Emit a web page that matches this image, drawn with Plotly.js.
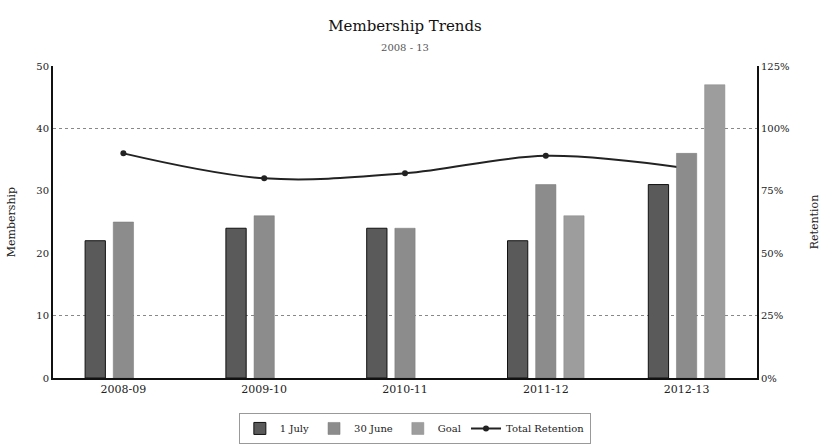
<!DOCTYPE html>
<html>
<head>
<meta charset="utf-8">
<script src="https://cdn.plot.ly/plotly-3.0.1.min.js"></script>
<style>html,body{margin:0;padding:0;background:#fff;}</style>
</head>
<body>
<div id="chart" style="width:833px;height:445px;"></div>
<script>
const categories = ["2008-09", "2009-10", "2010-11", "2011-12", "2012-13"];
const july1 = [22, 24, 24, 22, 31];
const june30 = [25, 26, 24, 31, 36];
const goal = [null, null, null, 26, 47];
const retention = [90, 80, 82, 89, 84];
const retentionTicks = [0, 25, 50, 75, 100, 125];
const retentionTickText = ["0%", "25%", "50%", "75%", "100%", "125%"];
const membershipTicks = [0, 10, 20, 30, 40, 50];
const gridLevels = [10, 40];

const FONT = "DejaVu Serif, serif";

const traces = [
  {
    type: "scatter", mode: "lines+markers", name: "Total Retention",
    x: categories, y: retention, xaxis: "x", yaxis: "y",
    line: {color: "#222", width: 2, shape: "spline"},
    marker: {color: "#222", size: 6, symbol: "circle"},
    legendrank: 4
  },
  {
    type: "bar", name: "1 July", x: categories, y: july1, xaxis: "x", yaxis: "y2",
    marker: {color: "#5a5a5a", line: {color: "#111", width: 1}}, legendrank: 1
  },
  {
    type: "bar", name: "30 June", x: categories, y: june30, xaxis: "x", yaxis: "y2",
    marker: {color: "#8c8c8c", line: {color: "#777", width: 0.5}}, legendrank: 2
  },
  {
    type: "bar", name: "Goal", x: categories, y: goal, xaxis: "x", yaxis: "y2",
    marker: {color: "#9d9d9d", line: {color: "#888", width: 0.5}}, legendrank: 3
  },
  {
    type: "scatter", mode: "none", x: categories, y: july1, xaxis: "x", yaxis: "y3",
    showlegend: false, hoverinfo: "skip"
  }
];

const layout = {
  width: 833, height: 445,
  margin: {l: 53, r: 76, t: 66, b: 67, autoexpand: false},
  paper_bgcolor: "#fff", plot_bgcolor: "rgba(0,0,0,0)",
  font: {family: FONT, color: "#222", size: 11},
  title: {
    text: "Membership Trends<br><span style='font-size:10px;color:#555'>2008 - 13</span>",
    font: {family: FONT, size: 15, color: "#111"},
    x: (405) / 833, xanchor: "center", y: 0.93, yanchor: "top"
  },
  barmode: "group", bargap: 0.4, bargroupgap: 0.28,
  showlegend: true,
  legend: {
    orientation: "h", x: 0.514, xanchor: "center", y: -0.112, yanchor: "top",
    bordercolor: "#999", borderwidth: 1, font: {family: FONT, size: 10, color: "#222"},
    traceorder: "normal", itemwidth: 30, tracegroupgap: 0
  },
  xaxis: {
    type: "category", showline: true, linecolor: "#111", linewidth: 2,
    ticks: "", showgrid: false, tickfont: {family: FONT, size: 11, color: "#222"}
  },
  yaxis: {
    side: "right", range: [0, 125], tickvals: retentionTicks, ticktext: retentionTickText,
    showline: true, linecolor: "#111", linewidth: 2, showgrid: false, zeroline: false,
    ticks: "", tickfont: {family: FONT, size: 10, color: "#222"},
    title: {text: "Retention", font: {family: FONT, size: 11, color: "#222"}, standoff: 22}
  },
  yaxis2: {
    overlaying: "y", side: "left", range: [0, 50], tickvals: membershipTicks,
    showline: true, linecolor: "#111", linewidth: 2, showgrid: false, zeroline: false,
    ticks: "", tickfont: {family: FONT, size: 10, color: "#222"},
    title: {text: "Membership", font: {family: FONT, size: 11, color: "#222"}, standoff: 18}
  },
  yaxis3: {
    overlaying: "y", side: "left", range: [0, 50], tickvals: gridLevels,
    showticklabels: false, showline: false, zeroline: false,
    showgrid: true, gridcolor: "#888", griddash: "dot", gridwidth: 1, layer: "below traces"
  }
};

Plotly.newPlot("chart", traces, layout, {displayModeBar: false, staticPlot: true});
</script>
</body>
</html>
